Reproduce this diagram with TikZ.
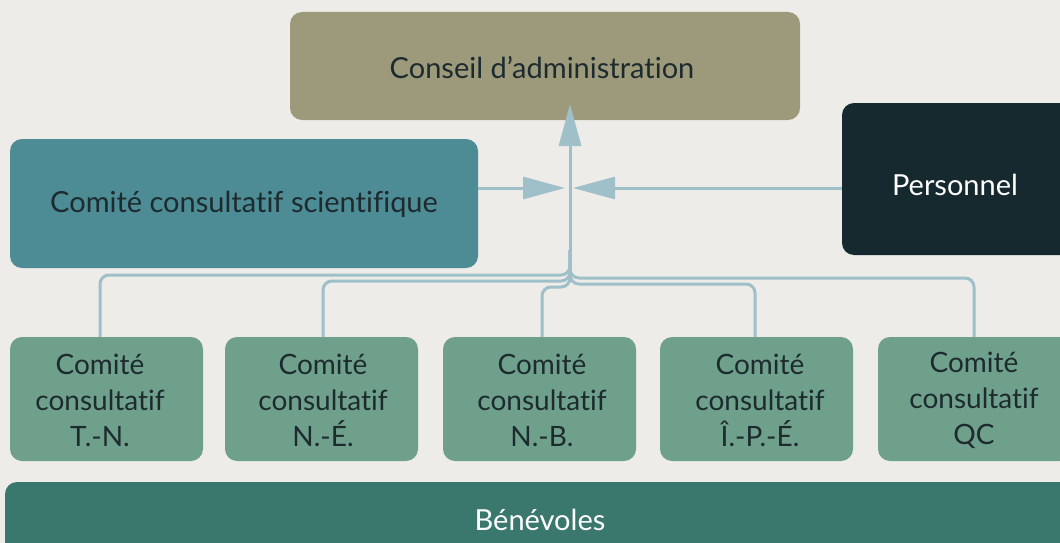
\documentclass[tikz,border=0pt]{standalone}
\usepackage{fontspec}
\setmainfont{Lato}[Ligatures={NoCommon,NoRare}]
\usetikzlibrary{arrows.meta}
\definecolor{bg}{HTML}{EDECE8}
\definecolor{conseil}{HTML}{9D9A7B}
\definecolor{sci}{HTML}{4D8B95}
\definecolor{pers}{HTML}{15292E}
\definecolor{comite}{HTML}{6FA08C}
\definecolor{benev}{HTML}{3A786E}
\definecolor{linec}{HTML}{9FC0C8}
\definecolor{darktxt}{HTML}{1D2B2F}
\begin{document}
\begin{tikzpicture}[x=1pt,y=-1pt,
  box/.style={rectangle, rounded corners=12pt, inner sep=0pt},
  lbl/.style={font=\fontsize{29}{36}\selectfont, align=center, inner sep=0pt, text=darktxt},
  slbl/.style={lbl, font=\fontsize{28}{36}\selectfont},
  wlbl/.style={lbl, text=white},
  conn/.style={draw=linec, line width=3pt},
  tip/.style={-{Triangle[length=42pt,width=22pt]}},
  small/.style={box, fill=comite, minimum width=193pt, minimum height=124pt}]
\useasboundingbox (0,0) rectangle (1060,543);
\clip (0,0) rectangle (1060,543);
\fill[bg] (0,0) rectangle (1060,543);

% boxes
\node[box, fill=conseil, minimum width=510pt, minimum height=108pt] (cons) at (545,66) {};
\node[lbl] (const) at (542,68) {Conseil d’administration};
\node[box, fill=sci, minimum width=468pt, minimum height=129pt] (sci) at (244,203.5) {};
\node[lbl] (scit) at (244,204) {Comité consultatif scientifique};
\node[box, fill=pers, minimum width=240pt, minimum height=152pt] (per) at (962,179) {};
\node[wlbl] (pert) at (955,185) {Personnel};

\node[small] (c1) at (106.5,399) {};
\node[small] (c2) at (321.5,399) {};
\node[small] (c3) at (539.5,399) {};
\node[small] (c4) at (756.5,399) {};
\node[small] (c5) at (974.5,399) {};
\node[slbl] (t1) at (100,400) {Comité\\consultatif\\T.-N.};
\node[slbl] (t2) at (323,400) {Comité\\consultatif\\N.-É.};
\node[slbl] (t3) at (542,400) {Comité\\consultatif\\N.-B.};
\node[slbl] (t4) at (760,400) {Comité\\consultatif\\Î.-P.-É.};
\node[slbl] (t5) at (974,400) {Comité\\consultatif\\QC};

\node[box, fill=benev, minimum width=1080pt, minimum height=78pt] (ben) at (545,521) {};
\node[wlbl] (bent) at (540,520) {Bénévoles};

% connectors
\coordinate (top) at (570,104);
\coordinate (hl) at (565,188);
\coordinate (hr) at (573,188);
\coordinate (hub) at (570,250);

\draw[conn, rounded corners=9pt] (c1.north -| t1) -- (t1 |- 0,275) -- (570,275) -- (hub);
\draw[conn, rounded corners=9pt] (c2.north -| t2) -- (t2 |- 0,281) -- (570,281) -- (hub);
\draw[conn, rounded corners=9pt] (c3.north -| t3) -- (t3 |- 0,287) -- (570,287) -- (hub);
\draw[conn, rounded corners=9pt] (c4.north -| 755,0) -- (755,284) -- (570,284) -- (hub);
\draw[conn, rounded corners=9pt] (c5.north -| t5) -- (t5 |- 0,278) -- (570,278) -- (hub);
\draw[conn, tip] (hub) -- (top);
\draw[conn, tip] (sci.east |- hl) -- (hl);
\draw[conn, tip] (per.west |- hr) -- (hr);
\end{tikzpicture}
\end{document}
